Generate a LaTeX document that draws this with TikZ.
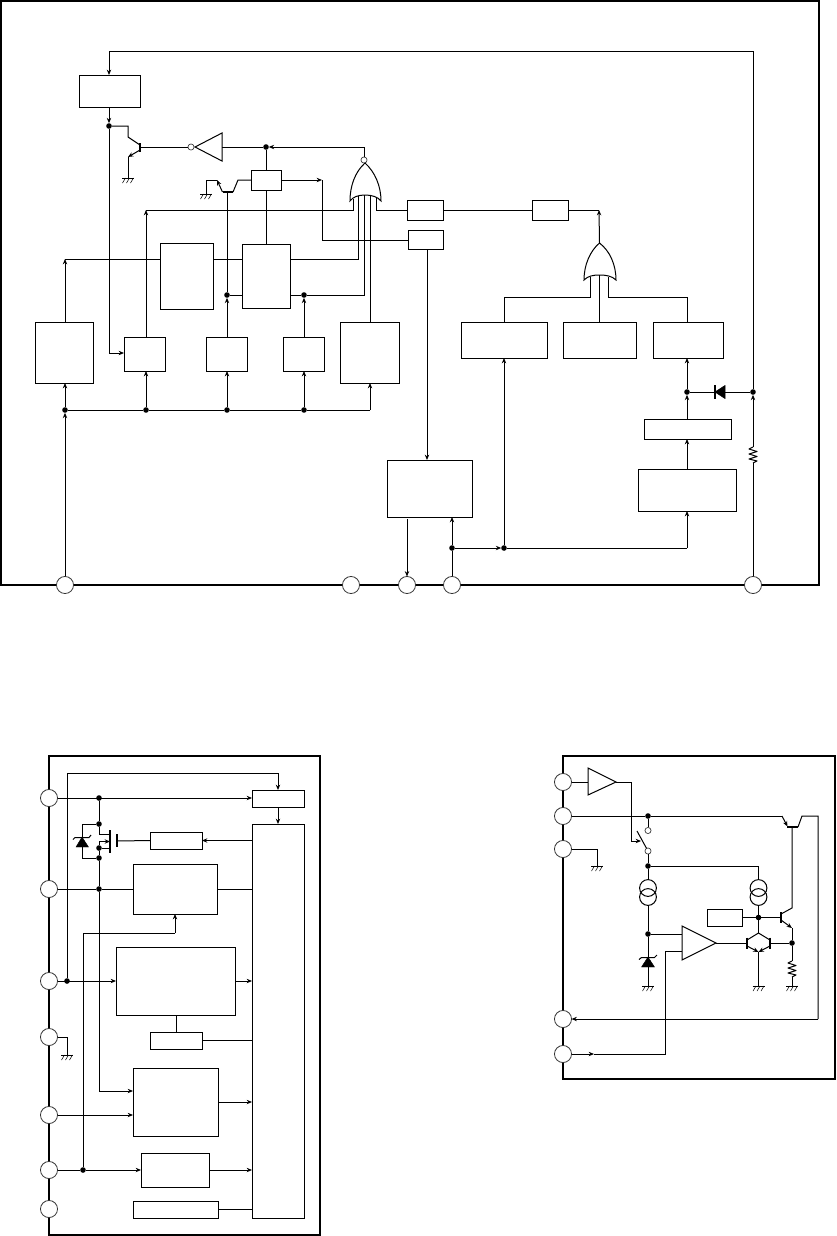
\documentclass[tikz,border=0pt]{standalone}
\usetikzlibrary{arrows.meta}
\tikzset{
  wire/.style={draw=black,line width=0.75pt,line join=miter},
  frame/.style={draw=black,line width=1.4pt},
  arw/.style={-{Stealth[length=4pt,width=3.3pt]}},
  blk/.style={draw=black,line width=0.75pt,fill=white,inner sep=0pt,outer sep=0pt},
  pinc/.style={circle,draw=black!80,line width=0.6pt,fill=white,inner sep=0pt,outer sep=0pt,minimum size=12.8pt},
  jn/.style={circle,fill=black,inner sep=0pt,outer sep=0pt,minimum size=4.2pt},
  bub/.style={circle,draw=black!80,line width=0.5pt,fill=white,inner sep=0pt,outer sep=0pt,minimum size=4.6pt},
  cs/.style={circle,draw=black,line width=0.75pt,inner sep=0pt,outer sep=0pt,minimum size=12.6pt},
  bar/.style={draw=black,line width=1.5pt},
  pics/gnd/.style={code={
    \draw[line width=0.75pt] (-6,0)--(6,0);
    \foreach \i in {-4,0,4}{\draw[line width=0.4pt] (\i+1.5,0)--(\i-1.5,5);}
  }},
  pics/resv/.style={code={
    \draw[wire,line join=round] (0,-8)--(-4,-6)--(4,-3.5)--(-4,-1)--(4,1.5)--(-4,4)--(4,6)--(0,8);
  }},
}
\newcommand\blkbox[5]{\node[blk,minimum width={(#4-#2)*0.75pt},minimum height={(#5-#3)*0.75pt}] (#1) at ({(#2+#4)/2},{(#3+#5)/2}) {};}
\begin{document}
\begin{tikzpicture}[x=0.75pt,y=-0.75pt]
\useasboundingbox (0,0) rectangle (836,1236);
% ======== frames
\draw[frame] (1,1) rectangle (819,585);
\draw[frame] (49,756) rectangle (320,1235);
\draw[frame] (563,756) rectangle (835,1079);
% ======== top: pins
\node[pinc] (P1) at (65,585) {};
\node[pinc] (P2) at (351,585) {};
\node[pinc] (P3) at (407,585) {};
\node[pinc] (P4) at (452,585) {};
\node[pinc] (P5) at (753,585) {};
% top: boxes
\blkbox{A}{79}{75}{140}{107}
\blkbox{B}{251}{170}{281}{190}
\blkbox{E}{407}{200}{443}{220}
\blkbox{F}{408}{230}{443}{249}
\blkbox{H}{532}{200}{568}{220}
\blkbox{P}{160}{243}{213}{309}
\blkbox{Q}{242}{244}{290}{308}
\blkbox{O}{35}{322}{93}{383}
\blkbox{D}{124}{337}{165}{371}
\blkbox{C}{206}{337}{247}{371}
\blkbox{R}{283}{337}{324}{371}
\blkbox{G}{340}{322}{399}{383}
\blkbox{I}{461}{322}{547}{358}
\blkbox{J}{563}{322}{636}{358}
\blkbox{K}{653}{322}{723}{358}
\blkbox{L}{644}{419}{731}{439}
\blkbox{M}{638}{469}{736}{511}
\blkbox{N}{387}{460}{472}{517}
% top: junctions
\node[jn] (jA) at (109,126) {};
\node[jn] (jInv) at (266,147) {};
\node[jn] (jC) at (227,295) {};
\node[jn] (jR) at (304,295) {};
\node[jn] (b1) at (65,410) {};
\node[jn] (b2) at (146,410) {};
\node[jn] (b3) at (227,410) {};
\node[jn] (b4) at (304,410) {};
\node[jn] (jK) at (687,392) {};
\node[jn] (jV) at (753,392) {};
\node[jn] (jN) at (452,548) {};
\node[jn] (jI) at (504,548) {};
% top: feedback line
\coordinate (c1) at (109,51);
\coordinate (c2) at (753,51);
\pic (R1) at (753,455) {resv};
\coordinate (r1t) at (753,447);
\coordinate (r1b) at (753,463);
\draw[wire] (P5.north) -- (r1b);
\draw[wire,arw] (r1t) -- (jV);
\draw[wire] (jV) -- (c2) -- (c1);
\draw[wire,arw] (c1) -- (c1 |- A.north);
\draw[wire,arw] (jA |- A.south) -- (jA);
\coordinate (dc) at (109,353);
\draw[wire] (jA) -- (dc);
\draw[wire,arw] (dc) -- (dc -| D.west);
% T1
\coordinate (t1c) at (128,126);
\coordinate (t1d) at (128,137);
\coordinate (t1b1) at (140,143);
\coordinate (t1b2) at (140,152);
\coordinate (t1e) at (128,157);
\coordinate (g1) at (128,178);
\coordinate (t1b) at (140,147);
\draw[wire] (jA) -- (t1c) -- (t1d) -- (t1b1 |- 0,145);
\draw[wire,arw] (t1b2 |- 0,150) -- (t1e);
\draw[wire] (t1e) -- (g1);
\draw[bar] (t1b1) -- (t1b2);
\pic at (g1) {gnd};
% inverter
\node[bub] (bI) at (191,147) {};
\coordinate (iA) at (195,147);
\coordinate (iB) at (222,133);
\coordinate (iC) at (222,161);
\draw[wire] (iA) -- (iB) -- (iC) -- cycle;
\draw[wire] (t1b) -- (bI);
\coordinate (nb) at (364,147);
\node[bub] (bN) at (364,160) {};
\draw[wire] (nb) -- (bN);
\draw[wire,arw] (nb) -- (jInv);
\draw[wire] (jInv) -- (iB |- jInv);
\draw[wire] (jInv) -- (jInv |- B.north);
\draw[wire] (jInv |- B.south) -- (jInv |- Q.north);
% B output to F
\coordinate (bf1) at (322,180);
\coordinate (bf2) at (322,240);
\draw[wire,arw] (B.east) -- (bf1);
\draw[wire] (bf1) -- (bf2) -- (F.west |- bf2);
% T2
\coordinate (t2g) at (206,194);
\coordinate (t2a) at (206,180);
\coordinate (t2b) at (217,180);
\coordinate (t2l) at (222.5,192);
\coordinate (t2r) at (233,192);
\coordinate (t2s) at (238,180);
\coordinate (t2m) at (227,192);
\draw[wire] (t2g) -- (t2a) -- (t2b);
\draw[wire,arw] (t2l) -- (t2b);
\draw[wire] (t2r) -- (t2s) -- (t2s -| B.west);
\draw[bar] (t2l) -- (t2r);
\pic at (t2g) {gnd};
\draw[wire] (jC) -- (t2m);
\draw[wire,arw] (jC |- C.north) -- (jC);
\draw[wire] (jC) -- (jC -| Q.west);
\draw[wire,arw] (jR |- R.north) -- (jR);
\draw[wire] (jR -| Q.east) -- (jR);
% NOR gate
\coordinate (nT) at (365,163);
\coordinate (nL) at (350,201);
\coordinate (nR) at (381,201);
\draw[wire,fill=white] (nL) .. controls (350,186) and (355,172) .. (nT) .. controls (375,172) and (381,186) .. (nR) .. controls (378,197) and (372,195) .. (365,195) .. controls (358,195) and (353,197) .. (nL) -- cycle;
\coordinate (n1a) at (353.5,199);
\coordinate (n1b) at (353.5,210);
\coordinate (n1c) at (146,210);
\draw[wire] (n1a) -- (n1b) -- (n1c);
\draw[wire,arw] (n1c |- D.north) -- (n1c);
\coordinate (n2a) at (358,196);
\coordinate (n2b) at (358,259);
\draw[wire] (n2a) -- (n2b) -- (n2b -| Q.east);
\coordinate (n3a) at (364,195);
\coordinate (n3b) at (364,295);
\draw[wire] (n3a) -- (n3b) -- (jR);
\coordinate (n4a) at (370,195);
\draw[wire] (n4a) -- (n4a |- G.north);
\coordinate (n5a) at (376,198);
\coordinate (n5b) at (376,210);
\draw[wire] (n5a) -- (n5b) -- (n5b -| E.west);
\draw[wire] (E.east) -- (H.west);
\coordinate (h1) at (599,210);
\draw[wire] (H.east) -- (h1);
\coordinate (oT) at (599.5,243);
\draw[wire,arw] (oT) -- (h1);
\coordinate (fo) at (427,249);
\draw[wire,arw] (fo) -- (fo |- N.north);
% O / P / Q row
\coordinate (o1) at (65,259);
\draw[wire,arw] (o1 |- O.north) -- (o1);
\draw[wire] (o1) -- (o1 -| P.west);
\draw[wire] (o1 -| P.east) -- (o1 -| Q.west);
% bus
\coordinate (b5) at (370,410);
\draw[wire] (b1) -- (b2) -- (b3) -- (b4) -- (b5);
\draw[wire,arw] (b5) -- (b5 |- G.south);
\draw[wire,arw] (b2) -- (b2 |- D.south);
\draw[wire,arw] (b3) -- (b3 |- C.south);
\draw[wire,arw] (b4) -- (b4 |- R.south);
\draw[wire,arw] (P1.north) -- (b1);
\draw[wire,arw] (b1) -- (b1 |- O.south);
% OR gate
\coordinate (oL) at (584,280);
\coordinate (oR) at (616,280);
\draw[wire,fill=white] (oL) .. controls (584,265) and (590,251) .. (oT) .. controls (610,251) and (616,265) .. (oR) .. controls (612,276) and (606,275) .. (599.5,275) .. controls (593,275) and (588,276) .. (oL) -- cycle;
\coordinate (o1a) at (590.5,277);
\coordinate (o1b) at (590.5,297);
\coordinate (o1c) at (504,297);
\draw[wire] (o1a) -- (o1b) -- (o1c) -- (o1c |- I.north);
\coordinate (o2a) at (599.5,275);
\draw[wire] (o2a) -- (o2a |- J.north);
\coordinate (o3a) at (608.5,277);
\coordinate (o3b) at (608.5,297);
\coordinate (o3c) at (687,297);
\draw[wire] (o3a) -- (o3b) -- (o3c) -- (o3c |- K.north);
% right column
\draw[wire,arw] (jK) -- (jK |- K.south);
\draw[wire,arw] (jK |- L.north) -- (jK);
\draw[wire,arw] (jK |- M.north) -- (jK |- L.south);
\coordinate (m1) at (687,548);
\draw[wire,arw] (m1) -- (m1 |- M.south);
\draw[wire] (jI) -- (m1);
\draw[wire,arw] (jN) -- (jI);
\draw[wire,arw] (jI) -- (jI |- I.south);
\draw[wire] (P4.north) -- (jN);
\draw[wire,arw] (jN) -- (jN |- N.south);
\coordinate (no) at (407,519);
\draw[wire,arw] (no) -- (P3.north);
% diode
\coordinate (dA) at (715,392);
\coordinate (dB) at (725,385.5);
\coordinate (dC) at (725,398.5);
\draw[wire] (jK) -- (dA);
\draw[wire] (dB |- dA) -- (jV);
\draw[fill=black,line width=0.4pt] (dA) -- (dB) -- (dC) -- cycle;
\draw[line width=0.8pt] (715,385) -- (715,399);
% ======== bottom left
\node[pinc] (L1) at (49,798) {};
\node[pinc] (L2) at (49,889) {};
\node[pinc] (L3) at (49,981) {};
\node[pinc] (L4) at (49,1037) {};
\node[pinc] (L5) at (49,1115) {};
\node[pinc] (L6) at (49,1170) {};
\node[pinc] (L7) at (49,1209) {};
\blkbox{S}{252}{790}{304}{807}
\blkbox{T}{252}{824}{304}{1218}
\blkbox{U}{150}{832}{202}{849}
\blkbox{V}{133}{864}{217}{914}
\blkbox{W}{116}{947}{235}{1015}
\blkbox{X}{150}{1032}{202}{1049}
\blkbox{Y}{133}{1068}{218}{1136}
\blkbox{Z}{141}{1153}{209}{1187}
\blkbox{AA}{133}{1201}{218}{1218}
\node[jn] (l1) at (99,798) {};
\node[jn] (l2) at (99,824) {};
\node[jn] (l3) at (99,848) {};
\node[jn] (l4) at (99,858) {};
\node[jn] (l5) at (99,889) {};
\node[jn] (l6) at (67,981) {};
\node[jn] (l7) at (83,1170) {};
% supply line
\coordinate (s1) at (67,773);
\coordinate (s2) at (278,773);
\draw[wire] (l6) -- (s1) -- (s2);
\draw[wire,arw] (s2) -- (s2 |- S.north);
\draw[wire,arw] (s2 |- S.south) -- (s2 |- T.north);
\draw[wire,arw] (L1.east) -- (S.west |- L1);
\draw[wire] (l1) -- (l2);
% MOSFET
\coordinate (md) at (99,834);
\coordinate (ms) at (99,841.5);
\coordinate (mc1) at (110,834);
\coordinate (mc2) at (110,841.5);
\coordinate (mc3) at (110,848);
\coordinate (mg) at (117,841);
\draw[wire] (l2) -- (md) -- (mc1);
\draw[wire,arw] (ms) -- (mc2);
\draw[wire] (ms) -- (l3);
\draw[wire] (l3) -- (mc3);
\draw[wire] (l3) -- (l4);
\draw[bar] (110,830) -- (110,853);
\draw[line width=0.9pt] (117,834) -- (117,847);
\draw[wire] (mg) -- (U.west);
\draw[wire,arw] (T.west |- U.east) -- (U.east);
% zener left
\coordinate (z1) at (82,824);
\coordinate (z2) at (82,858);
\draw[wire] (l2) -- (z1) -- (82,837);
\draw[wire] (82,847) -- (z2) -- (l4);
\draw[fill=black,line width=0.3pt] (82,837) -- (76,847) -- (88.5,847) -- cycle;
\draw[line width=0.75pt] (73,839.5) -- (75,837.5) -- (89,837.5) -- (91,835);
% vertical 99
\coordinate (y1) at (99,1091);
\draw[wire] (l4) -- (l5);
\draw[wire] (l5) -- (y1);
\draw[wire,arw] (y1) -- (y1 -| Y.west);
\draw[wire] (L2.east) -- (l5) -- (V.west |- l5);
\draw[wire] (V.east) -- (T.west |- V.east);
% V bottom feed
\coordinate (vb) at (83,933);
\coordinate (vc) at (175,933);
\draw[wire] (l7) -- (vb) -- (vc);
\draw[wire,arw] (vc) -- (vc |- V.south);
% W / X
\draw[wire,arw] (L3.east) -- (W.west |- L3);
\draw[wire,arw] (W.east |- L3) -- (T.west |- L3);
\draw[wire] (X.north |- W.south) -- (X.north);
\draw[wire] (X.east) -- (T.west |- X.east);
% ground
\coordinate (lg1) at (67,1037);
\coordinate (lg2) at (67,1055);
\draw[wire] (L4.east) -- (lg1) -- (lg2);
\pic at (lg2) {gnd};
% Y / Z / AA
\draw[wire,arw] (L5.east) -- (Y.west |- L5);
\coordinate (yo) at (218,1102);
\draw[wire,arw] (yo) -- (T.west |- yo);
\draw[wire] (L6.east) -- (l7);
\draw[wire,arw] (l7) -- (Z.west |- l7);
\draw[wire,arw] (Z.east) -- (T.west |- Z.east);
\draw[wire] (AA.east) -- (T.west |- AA.east);
% ======== bottom right
\node[pinc] (R1p) at (563,782) {};
\node[pinc] (R2p) at (563,816) {};
\node[pinc] (R3p) at (563,849) {};
\node[pinc] (R4p) at (563,1019) {};
\node[pinc] (R5p) at (563,1054) {};
% buffer
\coordinate (aT) at (588,768);
\coordinate (aB) at (588,795);
\coordinate (aA) at (616,782);
\draw[wire,fill=white] (aT) -- (aA) -- (aB) -- cycle;
\draw[wire] (R1p.east) -- (aT |- R1p);
\coordinate (sw1) at (631,782);
\coordinate (sw2) at (631,841);
\coordinate (swp) at (641,841);
\draw[wire] (aA) -- (sw1) -- (sw2);
\draw[wire,arw] (sw2) -- (swp);
% switch
\node[jn] (q1) at (648,816) {};
\node[bub] (c1s) at (648,830.5) {};
\node[bub] (c2s) at (648,851) {};
\coordinate (bl) at (637,831);
\draw[wire] (c2s) -- (bl);
\draw[wire] (q1) -- (c1s);
\node[jn] (q2) at (648,866) {};
\draw[wire] (c2s) -- (q2);
% current sources
\node[cs] (s1a) at (648,888) {};
\node[cs] (s1b) at (648,897) {};
\node[cs] (s2a) at (758.5,888) {};
\node[cs] (s2b) at (758.5,897) {};
\coordinate (q2r) at (758.5,866);
\draw[wire] (q2) -- (s1a.north);
\draw[wire] (q2) -- (q2r) -- (s2a.north);
\node[jn] (q3) at (648,934) {};
\draw[wire] (s1b.south) -- (q3);
% zener right
\draw[wire] (q3) -- (648,957);
\coordinate (g2) at (648,986);
\draw[wire] (648,967) -- (g2);
\draw[fill=black,line width=0.3pt] (648,957) -- (641.5,967) -- (654.5,967) -- cycle;
\draw[line width=0.75pt] (639,959.5) -- (641.5,957.5) -- (654.5,957.5) -- (657,955);
\pic at (g2) {gnd};
% amp
\coordinate (bT) at (682,926);
\coordinate (bB) at (682,960);
\coordinate (bA) at (716,943);
\draw[wire,fill=white] (bT) -- (bA) -- (bB) -- cycle;
\draw[wire] (q3) -- (bT |- q3);
\coordinate (bi1) at (682,951);
\coordinate (bi2) at (665,951);
\coordinate (bi3) at (665,1054);
\coordinate (bi4) at (594,1054);
\draw[wire] (bi1) -- (bi2) -- (bi3) -- (bi4);
\draw[wire,arw] (R5p.east) -- (bi4);
% mirror
\coordinate (mL) at (747,943);
\coordinate (mR) at (770,943);
\coordinate (mTop) at (758.5,933);
\coordinate (mBot) at (758.5,952);
\draw[wire] (bA) -- (mL);
\draw[bar] (747,937.5) -- (747,948.5);
\draw[bar] (770,937.5) -- (770,948.5);
\draw[wire] (747,940) -- (mTop) -- (770,940);
\draw[wire,arw] (747,946) -- (mBot);
\draw[wire,arw] (770,946) -- (mBot);
\coordinate (g3) at (758.5,986);
\draw[wire] (mBot) -- (g3);
\pic at (g3) {gnd};
\node[jn] (q4) at (758.5,917.5) {};
\draw[wire] (s2b.south) -- (q4);
\draw[wire] (q4) -- (mTop);
\blkbox{B2}{707}{909}{742}{926}
\draw[wire] (B2.east |- q4) -- (q4);
% output transistor
\coordinate (tb) at (781,917.5);
\draw[wire] (q4) -- (tb);
\draw[bar] (781,912) -- (781,923);
\coordinate (tc) at (792,908);
\coordinate (tt) at (792,827);
\draw[wire] (781,914) -- (tc) -- (tt);
\coordinate (te) at (792,928);
\draw[wire,arw] (781,920) -- (te);
\node[jn] (q5) at (792,943) {};
\draw[wire] (te) -- (q5);
\draw[wire] (mR) -- (q5);
\coordinate (g4) at (792,986);
\pic at (792,969) {resv};
\draw[wire] (q5) -- (792,961);
\draw[wire] (792,977) -- (g4);
\pic at (g4) {gnd};
% top transistor
\coordinate (pA) at (782,816);
\coordinate (pB) at (802,816);
\coordinate (pC) at (818,816);
\coordinate (pD) at (818,1019);
\draw[wire] (R2p.east) -- (q1) -- (pA);
\draw[wire,arw] (pA) -- (787.5,826.5);
\draw[bar] (787,827) -- (798,827);
\draw[wire] (798,827) -- (pB) -- (pC) -- (pD);
\draw[wire,arw] (pD) -- (R4p.east);
% pin 3 ground
\coordinate (rg1) at (597,849);
\coordinate (rg2) at (597,866);
\draw[wire] (R3p.east) -- (rg1) -- (rg2);
\pic at (rg2) {gnd};
\end{tikzpicture}
\end{document}
